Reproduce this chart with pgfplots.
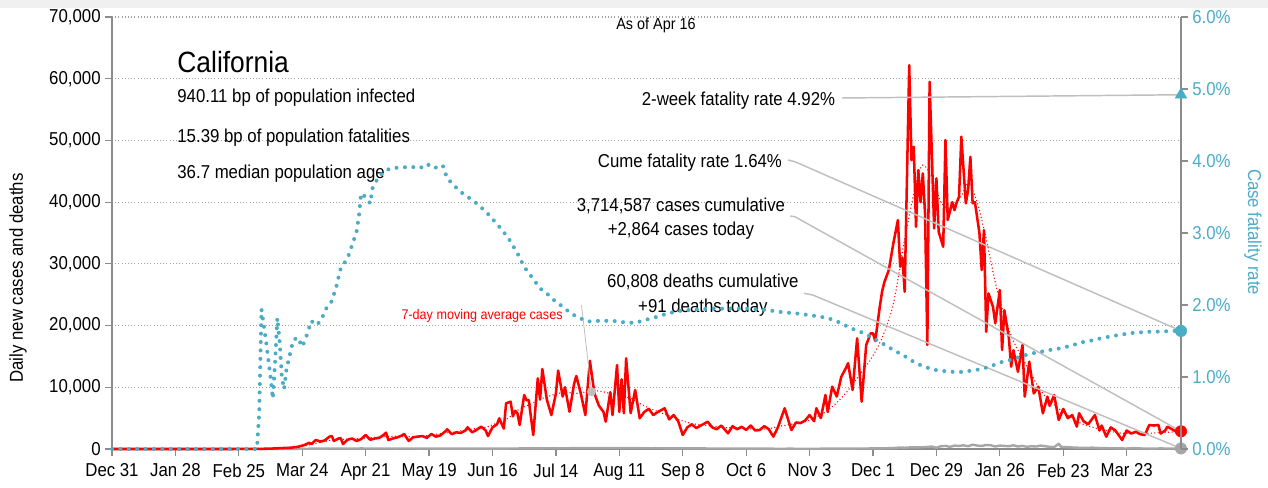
\documentclass[border=0pt]{standalone}
\usepackage{fontspec}
\setmainfont{Liberation Sans}[FakeStretch=0.9]
\usepackage{pgfplots}
\usepackage{pgfplotstable}
\pgfplotsset{compat=1.18}
\definecolor{cfrblue}{HTML}{4BACC6}
\definecolor{axisgray}{HTML}{8C8C8C}
\definecolor{leadgray}{HTML}{BFBFBF}
\definecolor{deathgray}{HTML}{A6A6A6}
\definecolor{gridgray}{HTML}{A0A0A0}

\pgfplotstableread{
day cases
0 0
30 0
50 0
60 5
65 20
70 60
75 150
79 210
82 350
85 650
87 1000
88 800
90 1460
92 1200
94 1400
96 2000
97 2100
98 1300
100 1700
101 1750
102 800
104 1500
106 1700
108 1300
110 1600
112 2270
114 1500
116 1700
118 1800
120 2300
121 2650
122 1450
124 1700
126 1880
128 2200
129 2430
131 1300
133 1900
135 2000
137 2100
139 1800
141 2430
143 2000
145 2200
147 2800
148 3190
150 2400
152 2700
154 2600
156 3000
157 3510
159 2700
161 3100
163 3620
165 3000
166 2100
168 3500
170 4000
171 4970
173 3300
174 7400
176 7670
177 5300
178 6200
179 5800
180 3890
182 8750
183 7900
184 7940
186 2270
188 11450
189 8000
190 12960
192 8000
194 5500
196 9000
197 12700
199 8500
200 10000
202 6050
204 10500
205 11830
207 9000
209 5500
211 14300
213 9000
215 7000
217 6000
218 4430
220 9200
221 5500
223 13600
224 6000
225 11300
226 5800
227 14700
229 5800
231 9560
233 4970
235 6000
237 6500
239 5500
241 6000
244 6600
246 4800
248 5500
250 4500
252 2270
254 3500
256 4000
258 3400
260 3800
263 4430
265 3500
267 3200
269 3800
272 2540
274 3700
276 3200
278 3600
280 3100
282 3800
284 3000
286 3080
288 3700
290 3200
292 2000
294 3500
297 6600
299 4200
300 3080
302 4300
304 4200
306 4600
308 5500
310 4500
311 6600
313 5000
315 8750
316 6000
318 10100
320 8500
322 11700
324 13080
325 13900
327 9560
329 17930
331 7670
333 16850
335 18750
336 18750
337 17500
339 23060
340 25480
341 27000
343 29000
345 33330
347 37100
348 29540
349 31000
350 25480
352 62200
353 46800
354 48970
355 36000
356 45200
357 40000
358 44660
359 38000
360 16850
361 59500
363 35750
364 43850
365 35200
367 32770
368 50060
369 37100
371 40000
372 38700
373 40000
374 40870
375 50600
377 39800
378 42000
379 47360
380 39800
381 40000
383 35000
384 29000
385 35480
386 19000
387 25200
389 23000
390 20370
392 25770
393 16040
394 22500
396 18000
397 13330
398 16000
400 12500
402 16850
403 8480
405 14150
407 9000
409 10100
411 5780
413 8480
414 7000
416 8750
418 4700
420 6500
422 5000
424 5500
426 3620
427 5800
429 4500
431 4000
434 5500
436 3000
437 3800
439 2000
441 3500
443 3000
446 1460
448 3000
450 2500
452 2800
454 2400
456 2270
458 3890
460 3800
462 3900
463 2500
465 3000
466 3620
468 3200
469 3000
471 2540
472 2864
}\casesdata

\pgfplotstableread{
day ma
0 0
60 0
70 20
75 100
80 250
85 500
90 900
95 1300
100 1550
105 1600
110 1700
115 1850
120 2000
125 2050
130 2000
135 2050
140 2200
145 2500
150 2700
155 3000
160 3300
165 3500
170 4200
175 5000
180 6500
185 7300
190 8200
195 8800
200 9200
205 9000
210 9300
215 9400
220 9000
225 8700
230 8000
235 7000
240 6200
245 5500
250 4800
255 4200
260 3900
265 3700
270 3500
275 3400
280 3300
285 3200
290 3300
295 3700
300 4000
305 4300
310 5000
315 6000
320 7500
325 9500
330 12000
335 14500
340 18000
345 23500
350 34000
355 43000
358 46000
362 44000
366 40000
370 39000
375 41000
378 43000
382 40000
386 34000
390 27000
394 21500
398 17500
403 14000
410 9500
415 7500
420 6000
427 4300
435 3300
445 2600
455 2500
465 2700
472 2800
}\madata

\pgfplotstableread{
day deaths
0 0
60 0
70 5
75 15
80 25
85 40
90 60
95 70
100 85
105 75
110 90
115 80
120 85
125 70
130 80
135 70
140 75
145 65
150 60
155 55
160 50
165 60
170 55
175 70
180 90
185 100
190 110
195 130
200 120
205 140
210 150
215 130
220 160
225 140
230 150
235 120
240 130
245 110
250 100
255 90
260 95
265 80
270 75
275 70
280 60
285 55
290 50
295 45
300 50
305 40
310 45
315 50
320 55
325 60
330 80
335 90
340 110
345 150
348 250
350 200
353 280
356 260
359 300
362 400
364 200
366 450
368 500
370 350
372 550
374 500
376 600
378 450
380 700
382 550
384 500
386 650
388 600
390 400
392 550
394 500
396 450
398 600
400 400
402 500
404 350
406 450
408 400
410 550
412 450
414 350
416 300
418 850
419 350
421 300
424 250
427 200
430 180
433 220
436 150
439 130
442 120
445 100
448 80
451 150
454 90
457 80
460 60
463 100
466 70
469 80
472 91
}\deathsdata

\pgfplotstableread{
day cfr
0 0
64 0
65 0.5
66 1.94
68 1.5
70 1.0
71 0.70
72 1.2
73 1.82
74 1.5
75 1.0
76 0.83
77 1.1
79 1.375
80 1.51
82 1.55
84 1.42
86 1.58
88 1.78
90 1.72
92 1.77
95 1.98
97 2.05
99 2.25
101 2.51
104 2.65
106 2.83
108 3.02
109 3.23
110 3.55
112 3.5
114 3.41
115 3.62
117 3.74
120 3.85
123 3.90
128 3.91
132 3.92
136 3.90
139 3.96
142 3.90
146 3.94
148 3.76
151 3.66
154 3.57
158 3.48
161 3.41
165 3.30
169 3.16
172 3.05
175 2.93
179 2.72
182 2.53
186 2.36
189 2.23
192 2.16
195 2.07
198 2.00
202 1.90
205 1.84
210 1.77
215 1.78
221 1.78
226 1.76
231 1.75
235 1.79
239 1.82
245 1.88
251 1.92
258 1.94
266 1.95
275 1.95
281 1.95
289 1.93
296 1.90
303 1.88
310 1.85
316 1.82
321 1.76
326 1.68
331 1.62
335 1.56
340 1.47
345 1.375
350 1.29
354 1.21
358 1.15
363 1.10
368 1.08
372 1.07
375 1.07
380 1.09
384 1.11
388 1.15
393 1.21
397 1.24
401 1.28
405 1.32
410 1.35
415 1.38
419 1.40
424 1.44
428 1.48
433 1.51
437 1.54
442 1.57
446 1.59
450 1.61
454 1.62
459 1.63
463 1.63
468 1.64
472 1.64
}\cfrdata

\newcommand{\tickfont}{\fontsize{14}{16}\selectfont}

\begin{document}
\begin{tikzpicture}
\fill[black!6] (-84pt,330.75pt) rectangle (867pt,336.75pt);
\begin{axis}[
  at={(0,0)}, anchor=south west, scale only axis,
  width=801.75pt, height=324pt,
  xmin=0, xmax=472, ymin=0, ymax=70000,
  axis x line*=bottom, axis y line*=left,
  axis line style={draw=axisgray, line width=0.9pt},
  tick style={draw=axisgray, line width=0.9pt},
  tick align=outside, major tick length=5pt,
  xtick={0,28,...,448},
  xticklabels={Dec 31,Jan 28,Feb 25,Mar 24,Apr 21,May 19,Jun 16,Jul 14,Aug 11,Sep 8,Oct 6,Nov 3,Dec 1,Dec 29,Jan 26,Feb 23,Mar 23},
  xticklabel style={yshift=-2.5pt},
  ytick={0,10000,...,70000},
  scaled y ticks=false,
  ymajorgrids,
  grid style={gridgray, line width=0.8pt, dash pattern=on 0.8pt off 1.6pt},
  yticklabel style={/pgf/number format/1000 sep={,}, /pgf/number format/assume math mode=true},
  tick label style={font=\tickfont, text=black},
  every axis y label/.style={at={(axis description cs:-0.0879,0.396)}, rotate=90, anchor=center, font=\tickfont},
  ylabel={Daily new cases and deaths},
  clip=false,
]
\addplot[deathgray, line width=1.8pt, line join=round] table[x=day, y=deaths] {\deathsdata};
\addplot[red, line width=1.9pt, line join=round] table[x=day, y=cases] {\casesdata};
\addplot[red, line width=1.1pt, line cap=round, dash pattern=on 0pt off 2.6pt, smooth] table[x=day, y=ma] {\madata};
% leader lines
\addplot[leadgray, line width=1.1pt] coordinates {(322.4,56876) (472,57400)};
\addplot[leadgray, line width=1.1pt] coordinates {(298.5,46830) (301.5,46560) (472,19133)};
\addplot[leadgray, line width=1.1pt] coordinates {(299.5,37755) (301.5,37640) (472,2864)};
\addplot[leadgray, line width=1.1pt] coordinates {(305.5,25230) (309.4,24954) (472,91)};
\addplot[leadgray, line width=0.6pt] coordinates {(207.3,23334) (211.7,9285)};
\addplot[only marks, mark=*, mark size=3.2pt, leadgray] coordinates {(211.7,9285)};
\addplot[only marks, mark=*, mark size=4.3pt, red] coordinates {(472,2864)};
\addplot[only marks, mark=*, mark size=4.3pt, deathgray] coordinates {(472,91)};
% texts
\node[anchor=base west, font=\fontsize{22}{24}\selectfont] at (axis cs:26.8,60976) {California};
\node[anchor=base west, font=\tickfont] at (axis cs:26.8,56077) {940.11 bp of population infected};
\node[anchor=base west, font=\tickfont] at (axis cs:26.8,49595) {15.39 bp of population fatalities};
\node[anchor=base west, font=\tickfont] at (axis cs:26.8,43761) {36.7 median population age};
\node[anchor=base, font=\fontsize{12}{14}\selectfont] at (axis cs:240.2,67895) {As of Apr 16};
\node[anchor=base east, font=\tickfont, inner sep=0pt] at (axis cs:319.4,55580) {2-week fatality rate 4.92\%};
\node[anchor=base east, font=\tickfont, inner sep=0pt] at (axis cs:295.9,45582) {Cume fatality rate 1.64\%};
\node[anchor=base, font=\tickfont, inner sep=0pt] at (axis cs:251.2,38452) {3,714,587 cases cumulative};
\node[anchor=base, font=\tickfont, inner sep=0pt] at (axis cs:251.2,34515) {+2,864 cases today};
\node[anchor=base, font=\tickfont, inner sep=0pt] at (axis cs:260.9,26202) {60,808 deaths cumulative};
\node[anchor=base, font=\tickfont, inner sep=0pt] at (axis cs:260.9,22151) {+91 deaths today};
\node[anchor=base, font=\fontsize{10.5}{12}\selectfont, text=red, inner sep=0pt] at (axis cs:163.4,21016) {7-day moving average cases};
\end{axis}
\begin{axis}[
  at={(0,0)}, anchor=south west, scale only axis,
  width=801.75pt, height=324pt,
  xmin=0, xmax=472, ymin=0, ymax=6,
  axis x line=none, axis y line*=right,
  axis line style={draw=axisgray, line width=0.9pt},
  tick style={draw=axisgray, line width=0.9pt},
  tick align=outside, major tick length=5pt,
  ytick={0,1,...,6},
  yticklabel={\pgfmathprintnumber[fixed,fixed zerofill,precision=1,assume math mode=true]{\tick}\%},
  yticklabel style={font=\tickfont, text=cfrblue},
  every axis y label/.style={at={(axis description cs:1.0674,0.502)}, rotate=-90, anchor=center, font=\tickfont, text=cfrblue},
  ylabel={Case fatality rate},
  clip=false,
]
\addplot[cfrblue, line width=3pt, line cap=round, dash pattern=on 0pt off 6.3pt] table[x=day, y=cfr] {\cfrdata};
\addplot[only marks, mark=triangle*, mark size=5pt, cfrblue] coordinates {(472,4.92)};
\addplot[only marks, mark=*, mark size=4.3pt, cfrblue] coordinates {(472,1.64)};
\end{axis}
\pgfresetboundingbox
\useasboundingbox (-84pt,-29.25pt) rectangle (867pt,336.75pt);
\end{tikzpicture}
\end{document}
